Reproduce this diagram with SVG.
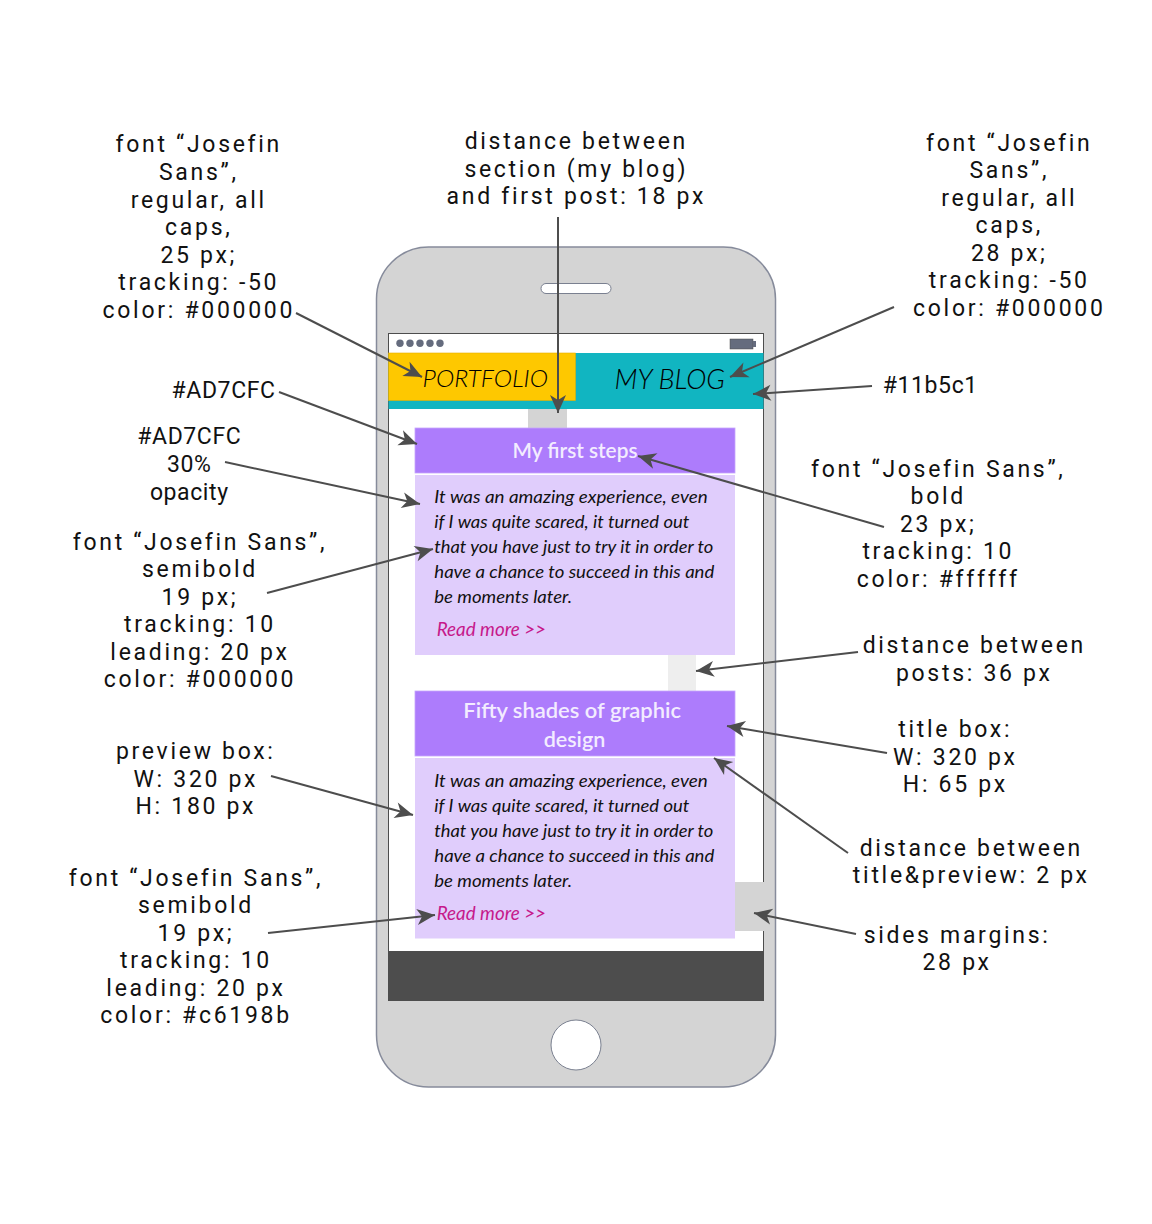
<svg xmlns="http://www.w3.org/2000/svg" width="1152" height="1224" viewBox="0 0 1152 1224">
<defs>
<style>
.ann{font-family:Roboto,"Open Sans",sans-serif;font-size:23px;fill:#111;letter-spacing:2.7px;text-anchor:middle}
.ann0{font-family:Roboto,"Open Sans",sans-serif;font-size:23px;fill:#111;letter-spacing:0.6px;text-anchor:middle}
.body{font-family:Lato,"Open Sans",sans-serif;font-style:italic;font-size:17px;fill:#111}
.more{font-family:Lato,"Open Sans",sans-serif;font-style:italic;font-size:19px;fill:#c6198b}
.ttl{font-family:Lato,"Open Sans",sans-serif;font-weight:600;font-size:21px;fill:#f3ecff;text-anchor:middle}
.nav{font-family:Lato,"Open Sans",sans-serif;font-style:italic;font-weight:300;fill:#000}
.con{stroke:#4d4d4d;stroke-width:2;fill:none;marker-end:url(#ah)}
.dot{fill:#656c7e}
</style>
<marker id="ah" viewBox="-20 -10 22 20" refX="0" refY="0" markerWidth="22" markerHeight="20" markerUnits="userSpaceOnUse" orient="auto">
<path d="M0,0 L-18,-8 L-13,0 L-18,8 Z" fill="#4d4d4d"/>
</marker>
</defs>
<rect width="1152" height="1224" fill="#fff"/>

<g id="phone">
<rect x="376.5" y="247" width="399" height="840" rx="52" fill="#d4d4d4" stroke="#868b9b" stroke-width="1.5"/>
<rect x="541" y="283.5" width="70" height="10" rx="5" fill="#fff" stroke="#7a8090" stroke-width="1"/>
<circle cx="576" cy="1045" r="25" fill="#fff" stroke="#7a8090" stroke-width="1"/>
</g>

<g id="screen">
<rect x="388.5" y="333.5" width="375" height="667" fill="#fff" stroke="#4d4d4d" stroke-width="1"/>
<circle class="dot" cx="400" cy="343.3" r="3.7"/>
<circle class="dot" cx="410" cy="343.3" r="3.7"/>
<circle class="dot" cx="420" cy="343.3" r="3.7"/>
<circle class="dot" cx="430" cy="343.3" r="3.7"/>
<circle class="dot" cx="440" cy="343.3" r="3.7"/>
<rect x="730" y="339" width="23" height="10" fill="#656c7e" stroke="#4d4d4d" stroke-width="0.5"/>
<rect x="753" y="341" width="3" height="6" fill="#656c7e"/>
</g>

<g id="nav">
<rect x="388.5" y="353" width="375" height="56" fill="#11b5c1"/>
<rect x="388.5" y="353" width="187" height="47.5" fill="#fec800" stroke="#e6b000" stroke-width="0.6"/>
<text class="nav" x="422.5" y="386.7" font-size="24" textLength="125.5" lengthAdjust="spacingAndGlyphs">PORTFOLIO</text>
<text class="nav" x="614.5" y="389" font-size="27" textLength="110.5" lengthAdjust="spacingAndGlyphs">MY BLOG</text>
</g>

<g id="spacers">
<rect x="528" y="409" width="39" height="19" fill="#d4d4d4"/>
<rect x="668" y="655" width="28" height="36" fill="#eeeeee"/>
<rect x="735" y="882" width="29" height="49" fill="#d4d4d4"/>
</g>

<g id="post1">
<rect x="415" y="428" width="320" height="45" fill="#ad7cfc" stroke="#c6a6fd" stroke-width="0.8"/>
<text class="ttl" x="575" y="458" textLength="125" lengthAdjust="spacingAndGlyphs">My first steps</text>
<rect x="415" y="475" width="320" height="180" fill="#e0cdfc"/>
<text class="body" x="434.3" y="503.3" textLength="273.4" lengthAdjust="spacingAndGlyphs">It was an amazing experience, even</text>
<text class="body" x="434.3" y="528.3" textLength="255" lengthAdjust="spacingAndGlyphs">if I was quite scared, it turned out</text>
<text class="body" x="434.3" y="553.3" textLength="279" lengthAdjust="spacingAndGlyphs">that you have just to try it in order to</text>
<text class="body" x="434.3" y="578.3" textLength="280" lengthAdjust="spacingAndGlyphs">have a chance to succeed in this and</text>
<text class="body" x="434.3" y="603.3" textLength="137.7" lengthAdjust="spacingAndGlyphs">be moments later.</text>
<text class="more" x="436.7" y="636" textLength="109.3" lengthAdjust="spacingAndGlyphs">Read more &gt;&gt;</text>
</g>

<g id="post2">
<rect x="415" y="691" width="320" height="65" fill="#ad7cfc" stroke="#c6a6fd" stroke-width="0.8"/>
<text class="ttl" x="572.2" y="718.3" textLength="217.7" lengthAdjust="spacingAndGlyphs">Fifty shades of graphic</text>
<text class="ttl" x="574.5" y="746.7" textLength="61.6" lengthAdjust="spacingAndGlyphs">design</text>
<rect x="415" y="758" width="320" height="180.5" fill="#e0cdfc"/>
<text class="body" x="434.3" y="787.3" textLength="273.4" lengthAdjust="spacingAndGlyphs">It was an amazing experience, even</text>
<text class="body" x="434.3" y="812.3" textLength="255" lengthAdjust="spacingAndGlyphs">if I was quite scared, it turned out</text>
<text class="body" x="434.3" y="837.3" textLength="279" lengthAdjust="spacingAndGlyphs">that you have just to try it in order to</text>
<text class="body" x="434.3" y="862.3" textLength="280" lengthAdjust="spacingAndGlyphs">have a chance to succeed in this and</text>
<text class="body" x="434.3" y="887.3" textLength="137.7" lengthAdjust="spacingAndGlyphs">be moments later.</text>
<text class="more" x="436.7" y="920" textLength="109.3" lengthAdjust="spacingAndGlyphs">Read more &gt;&gt;</text>
</g>

<g id="footer">
<rect x="388.5" y="951" width="375" height="50" fill="#4d4d4d"/>
</g>

<g id="connectors">
<line class="con" x1="296" y1="313" x2="422" y2="377"/>
<line class="con" x1="279" y1="392" x2="417" y2="444"/>
<line class="con" x1="225" y1="462" x2="420" y2="504"/>
<line class="con" x1="558" y1="217" x2="558" y2="413"/>
<line class="con" x1="894" y1="307" x2="730" y2="377"/>
<line class="con" x1="872" y1="386" x2="753" y2="394"/>
<line class="con" x1="884" y1="527" x2="638" y2="456"/>
<line class="con" x1="267" y1="593" x2="433" y2="549"/>
<line class="con" x1="271" y1="776" x2="413" y2="815"/>
<line class="con" x1="268" y1="933" x2="435" y2="915"/>
<line class="con" x1="858" y1="652" x2="696" y2="671"/>
<line class="con" x1="887" y1="753" x2="727" y2="726"/>
<line class="con" x1="848" y1="853" x2="714" y2="758"/>
<line class="con" x1="856" y1="934" x2="754" y2="913"/>
</g>

<g id="label-portfolio-font">
<text class="ann" x="198.8" y="152.3">font “Josefin</text>
<text class="ann" x="198.8" y="180">Sans”,</text>
<text class="ann" x="198.8" y="207.7">regular, all</text>
<text class="ann" x="198.8" y="235">caps,</text>
<text class="ann" x="198.8" y="262.7">25 px;</text>
<text class="ann" x="198.8" y="290">tracking: -50</text>
<text class="ann" x="198.8" y="317.7">color: #000000</text>
</g>

<g id="label-distance-section">
<text class="ann" x="576.3" y="149">distance between</text>
<text class="ann" x="576.3" y="176.7">section (my blog)</text>
<text class="ann" x="576.3" y="204.3">and first post: 18 px</text>
</g>

<g id="label-myblog-font">
<text class="ann" x="1009.3" y="150.7">font “Josefin</text>
<text class="ann" x="1009.3" y="178.3">Sans”,</text>
<text class="ann" x="1009.3" y="206">regular, all</text>
<text class="ann" x="1009.3" y="233.3">caps,</text>
<text class="ann" x="1009.3" y="261">28 px;</text>
<text class="ann" x="1009.3" y="288.3">tracking: -50</text>
<text class="ann" x="1009.3" y="316">color: #000000</text>
</g>

<g id="label-title-color">
<text class="ann0" x="223.6" y="397.7">#AD7CFC</text>
</g>

<g id="label-preview-color">
<text class="ann0" x="189.3" y="444">#AD7CFC</text>
<text class="ann0" x="189.3" y="472.3">30%</text>
<text class="ann0" x="189.3" y="500">opacity</text>
</g>

<g id="label-teal">
<text class="ann0" x="930.3" y="393.3">#11b5c1</text>
</g>

<g id="label-title-font">
<text class="ann" x="938.3" y="476.7">font “Josefin Sans”,</text>
<text class="ann" x="938.3" y="504.3">bold</text>
<text class="ann" x="938.3" y="531.7">23 px;</text>
<text class="ann" x="938.3" y="559.3">tracking: 10</text>
<text class="ann" x="938.3" y="586.7">color: #ffffff</text>
</g>

<g id="label-body-font">
<text class="ann" x="200" y="550">font “Josefin Sans”,</text>
<text class="ann" x="200" y="577.3">semibold</text>
<text class="ann" x="200" y="605">19 px;</text>
<text class="ann" x="200" y="632.3">tracking: 10</text>
<text class="ann" x="200" y="660">leading: 20 px</text>
<text class="ann" x="200" y="687.3">color: #000000</text>
</g>

<g id="label-preview-box">
<text class="ann" x="195.8" y="759.3">preview box:</text>
<text class="ann" x="195.8" y="786.7">W: 320 px</text>
<text class="ann" x="195.8" y="814">H: 180 px</text>
</g>

<g id="label-readmore-font">
<text class="ann" x="196" y="885.7">font “Josefin Sans”,</text>
<text class="ann" x="196" y="913.3">semibold</text>
<text class="ann" x="196" y="940.7">19 px;</text>
<text class="ann" x="196" y="968.3">tracking: 10</text>
<text class="ann" x="196" y="995.7">leading: 20 px</text>
<text class="ann" x="196" y="1023.3">color: #c6198b</text>
</g>

<g id="label-posts-distance">
<text class="ann" x="974.3" y="653.3">distance between</text>
<text class="ann" x="974.3" y="680.7">posts: 36 px</text>
</g>

<g id="label-title-box">
<text class="ann" x="955.3" y="737.3">title box:</text>
<text class="ann" x="955.3" y="765">W: 320 px</text>
<text class="ann" x="955.3" y="792.3">H: 65 px</text>
</g>

<g id="label-title-preview">
<text class="ann" x="971.3" y="855.7">distance between</text>
<text class="ann" x="971.3" y="883.3">title&amp;preview: 2 px</text>
</g>

<g id="label-margins">
<text class="ann" x="957.1" y="942.7">sides margins:</text>
<text class="ann" x="957.1" y="970">28 px</text>
</g>
</svg>
